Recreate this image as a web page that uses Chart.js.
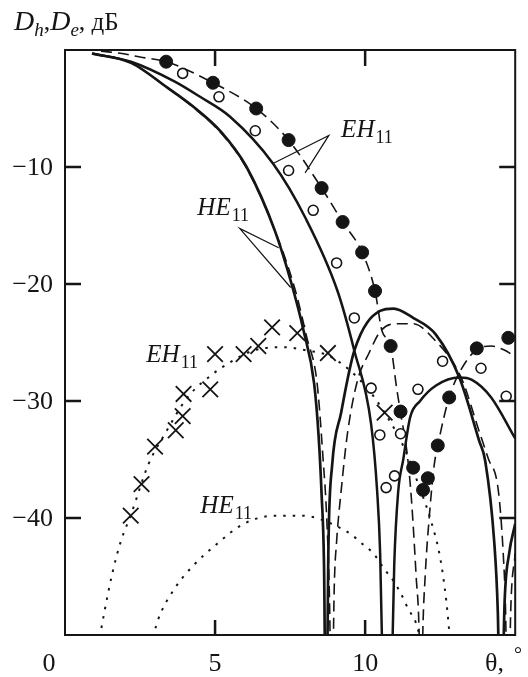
<!DOCTYPE html>
<html>
<head>
<meta charset="utf-8">
<script src="https://cdn.jsdelivr.net/npm/chart.js@4/dist/chart.umd.min.js"></script>
<style>
  html, body { margin: 0; padding: 0; background: #fff; }
  canvas { display: block; }
</style>
</head>
<body>
<canvas id="grafico" width="528" height="677"></canvas>
<script>
// ticks
var xTicks = [0, 5, 10];
var yTicks = [-10, -20, -30, -40];

// HE11 theory, solid
var heSolidX = [0.9, 2.2, 3.4, 4.3, 5.2, 6.05, 7.0, 7.55, 7.95, 8.3, 8.45, 8.55, 8.63, 8.7, 8.78, 8.9, 9.2, 9.64, 10.5, 10.95, 11.6, 12.35, 13.14, 13.8, 14.0, 14.3, 14.42, 14.52, 14.65, 14.8, 15.0];
var heSolidY = [-0.3, -1.1, -3.2, -4.9, -7.0, -10.0, -15.5, -20.0, -24.0, -28.5, -33, -38, -44, -60, -42, -35.5, -31, -25.7, -22.3, -22.1, -22.9, -24.3, -28.0, -33.4, -35.1, -42, -48, -60, -47, -43, -40.5];

// HE11 theory, dashed
var heDashX = [0.9, 2.2, 3.4, 4.3, 5.2, 6.05, 7.05, 7.68, 8.05, 8.4, 8.6, 8.72, 8.82, 8.88, 8.97, 9.05, 9.2, 9.41, 9.74, 10.13, 10.52, 11.05, 11.6, 12.25, 13.2, 13.8, 14.1, 14.44, 14.6, 14.68, 14.76, 14.85, 15.0];
var heDashY = [-0.3, -1.1, -3.2, -4.95, -7.1, -10.1, -15.8, -20.6, -24.5, -28.5, -35, -40, -48, -60, -46, -42, -37.7, -32.8, -28.3, -25.9, -24.0, -23.4, -23.4, -24.6, -28.0, -32.6, -34.9, -37.7, -43, -48, -60, -48, -43];

// EH11 theory, solid
var ehSolidX = [0.9, 2.2, 3.66, 4.5, 5.5, 6.93, 8.0, 9.08, 9.64, 10.2, 10.4, 10.5, 10.6, 10.75, 10.9, 10.97, 11.1, 11.27, 11.5, 11.83, 12.35, 13.14, 13.56, 14.2, 15.0];
var ehSolidY = [-0.3, -1.0, -2.7, -4.0, -5.7, -9.7, -14.3, -20.6, -25.7, -32, -37.7, -43, -55, -60, -52, -44, -37.8, -35, -31.4, -30, -28.7, -28.0, -28.2, -29.7, -33.2];

// EH11 theory, dashed
var ehDashX = [1.2, 1.9, 2.5, 3.37, 4.93, 6.37, 7.45, 8.55, 9.25, 9.9, 10.33, 10.56, 10.85, 11.05, 11.18, 11.4, 11.54, 11.7, 11.8, 11.86, 11.92, 12.0, 12.16, 12.3, 12.42, 12.8, 13.2, 13.72, 14.2, 14.6, 15.0];
var ehDashY = [-0.1, -0.3, -0.6, -1.0, -2.8, -5.0, -7.7, -11.8, -14.7, -17.3, -20.6, -24.0, -25.3, -28.9, -31.0, -34.5, -38.3, -45, -50, -60, -50, -45, -39.2, -35.5, -33.8, -29.7, -27.3, -25.6, -25.3, -25.6, -26.2];

// cross-polar theory, dotted
var ehDotX = [1.1, 1.3, 1.57, 1.86, 2.2, 2.78, 3.33, 4.08, 4.97, 5.5, 6.27, 7.25, 8.1, 8.76, 9.5, 10.1, 10.65, 11.3, 11.8, 12.2, 12.5, 12.7, 12.85];
var ehDotY = [-51, -48.2, -44.8, -42, -39.7, -35.4, -32.8, -29.7, -27.6, -26.7, -25.7, -25.4, -25.7, -26.1, -27.4, -29.0, -31.0, -34.0, -37.3, -40.3, -43.4, -47, -51];
var heDotX = [2.85, 3.1, 3.66, 4.3, 5.07, 5.95, 7.03, 7.94, 8.5, 9.05, 9.48, 9.9, 10.3, 10.62, 10.95, 11.2, 11.44, 11.7, 11.9];
var heDotY = [-51, -48.7, -46, -44, -42.2, -40.5, -39.8, -39.8, -40.1, -40.7, -41.3, -42.2, -43.1, -44.3, -45.4, -46.5, -47.8, -49, -51];

// measured points
var filledX = [3.37, 4.93, 6.37, 7.45, 8.55, 9.25, 9.9, 10.33, 10.85, 11.18, 11.6, 11.93, 12.09, 12.42, 12.8, 13.72, 14.77];
var filledY = [-1.0, -2.8, -5.0, -7.7, -11.8, -14.7, -17.3, -20.6, -25.3, -30.9, -35.7, -37.6, -36.6, -33.8, -29.7, -25.5, -24.6];
var openX = [3.92, 5.13, 6.34, 7.45, 8.27, 9.05, 9.64, 10.2, 10.49, 10.7, 10.98, 11.18, 11.76, 12.58, 13.86, 14.7];
var openY = [-2.0, -4.0, -6.9, -10.3, -13.7, -18.2, -22.9, -28.9, -32.9, -37.4, -36.4, -32.8, -29.0, -26.6, -27.2, -29.6];
var crossX = [2.19, 2.55, 3.0, 3.69, 3.92, 3.95, 4.84, 5.0, 5.95, 6.44, 6.9, 7.74, 8.76, 10.65];
var crossY = [-39.8, -37.1, -33.9, -32.5, -31.3, -29.4, -29.0, -26.0, -26.0, -25.3, -23.7, -24.2, -25.9, -31.0];

var negro = '#151515';
var serif = '"Liberation Serif", "DejaVu Serif", serif';

function puntos(xs, ys) {
  return xs.map(function (x, i) { return { x: x, y: ys[i] }; });
}

function linea(xs, ys, ancho, dash) {
  return {
    data: puntos(xs, ys),
    showLine: true,
    borderColor: negro,
    borderWidth: ancho,
    borderDash: dash,
    pointRadius: 0,
    cubicInterpolationMode: 'monotone',
    clip: 0
  };
}

// texto tipo HE11 con subindice
function modo(ctx, txt, sub, x, y) {
  ctx.font = 'italic 25px ' + serif;
  ctx.textAlign = 'left';
  ctx.textBaseline = 'alphabetic';
  ctx.fillText(txt, x, y);
  var w = ctx.measureText(txt).width;
  ctx.font = '18px ' + serif;
  ctx.fillText(sub, x + w + 1, y + 6);
}

var marco = {
  id: 'marco',
  afterDraw: function (chart) {
    var ctx = chart.ctx;
    var a = chart.chartArea;
    var sx = chart.scales.x, sy = chart.scales.y;
    ctx.save();
    ctx.strokeStyle = negro;
    ctx.fillStyle = negro;
    ctx.lineWidth = 2;
    ctx.strokeRect(a.left, a.top, a.right - a.left, a.bottom - a.top);

    // marcas hacia dentro
    ctx.lineWidth = 2.5;
    ctx.beginPath();
    yTicks.forEach(function (v) {
      var py = sy.getPixelForValue(v);
      ctx.moveTo(a.left, py); ctx.lineTo(a.left + 16, py);
      ctx.moveTo(a.right, py); ctx.lineTo(a.right - 16, py);
    });
    xTicks.forEach(function (v) {
      if (v === 0) return;
      var px = sx.getPixelForValue(v);
      ctx.moveTo(px, a.top); ctx.lineTo(px, a.top + 16);
      ctx.moveTo(px, a.bottom); ctx.lineTo(px, a.bottom - 15);
    });
    ctx.stroke();

    // etiquetas de ejes
    ctx.font = '26px ' + serif;
    ctx.textAlign = 'right';
    ctx.textBaseline = 'middle';
    yTicks.forEach(function (v) {
      ctx.fillText('\u2212' + Math.abs(v), 53, sy.getPixelForValue(v) + 1);
    });
    ctx.textAlign = 'center';
    ctx.textBaseline = 'alphabetic';
    xTicks.forEach(function (v) {
      var px = sx.getPixelForValue(v);
      if (v === 0) px -= 16;
      ctx.fillText(String(v), px, 671);
    });
    ctx.textAlign = 'left';
    ctx.fillText('\u03b8,', 485, 671);
    ctx.font = '20px ' + serif;
    ctx.fillText('\u00b0', 514, 661);

    // titulo del eje y
    var x = 14, y = 30;
    var partes = [
      ['D', 'italic 28px', 0], ['h', 'italic 19px', 6], [',', '26px', 0],
      ['D', 'italic 28px', 0], ['e', 'italic 19px', 6], [',', '26px', 0], [' \u0434\u0411', '25px', 0]
    ];
    partes.forEach(function (p) {
      ctx.font = p[1] + ' ' + serif;
      ctx.fillText(p[0], x, y + p[2]);
      x += ctx.measureText(p[0]).width;
    });

    // rotulos de las curvas
    function P(vx, vy) { return [sx.getPixelForValue(vx), sy.getPixelForValue(vy)]; }
    var t;
    t = P(9.2, -7.45); modo(ctx, 'EH', '11', t[0], t[1]);
    t = P(4.41, -14.14); modo(ctx, 'HE', '11', t[0], t[1]);
    t = P(2.71, -26.7); modo(ctx, 'EH', '11', t[0], t[1]);
    t = P(4.51, -39.6); modo(ctx, 'HE', '11', t[0], t[1]);

    ctx.lineWidth = 1.2;
    ctx.beginPath();
    var o = P(8.79, -7.3), d1 = P(6.93, -9.7), d2 = P(8.0, -10.5);
    ctx.moveTo(d1[0], d1[1]); ctx.lineTo(o[0], o[1]); ctx.lineTo(d2[0], d2[1]);
    o = P(5.82, -15.25); d1 = P(7.12, -16.9); d2 = P(7.52, -20.3);
    ctx.moveTo(d1[0], d1[1]); ctx.lineTo(o[0], o[1]); ctx.lineTo(d2[0], d2[1]);
    ctx.stroke();
    ctx.restore();
  }
};

new Chart(document.getElementById('grafico').getContext('2d'), {
  type: 'scatter',
  data: {
    datasets: [
      { data: puntos(openX, openY), pointStyle: 'circle', pointRadius: 5, pointBackgroundColor: '#fff', pointBorderColor: negro, pointBorderWidth: 1.6 },
      { data: puntos(filledX, filledY), pointStyle: 'circle', pointRadius: 6.5, pointBackgroundColor: negro, pointBorderColor: negro, pointBorderWidth: 1 },
      { data: puntos(crossX, crossY), pointStyle: 'crossRot', pointRadius: 11, pointBorderColor: negro, pointBorderWidth: 1.8 },
      linea(heSolidX, heSolidY, 2.7, []),
      linea(ehSolidX, ehSolidY, 2.5, []),
      linea(heDashX, heDashY, 1.6, [11, 6]),
      linea(ehDashX, ehDashY, 1.6, [11, 6]),
      linea(ehDotX, ehDotY, 2, [2.5, 7]),
      linea(heDotX, heDotY, 2, [2.5, 7])
    ]
  },
  options: {
    responsive: false,
    animation: false,
    layout: { padding: { left: 65, top: 50, right: 3, bottom: 42 } },
    plugins: { legend: { display: false }, tooltip: { enabled: false } },
    events: [],
    scales: {
      x: { type: 'linear', min: 0, max: 15, display: false },
      y: { type: 'linear', min: -50, max: 0, display: false }
    }
  },
  plugins: [marco]
});
</script>
</body>
</html>
